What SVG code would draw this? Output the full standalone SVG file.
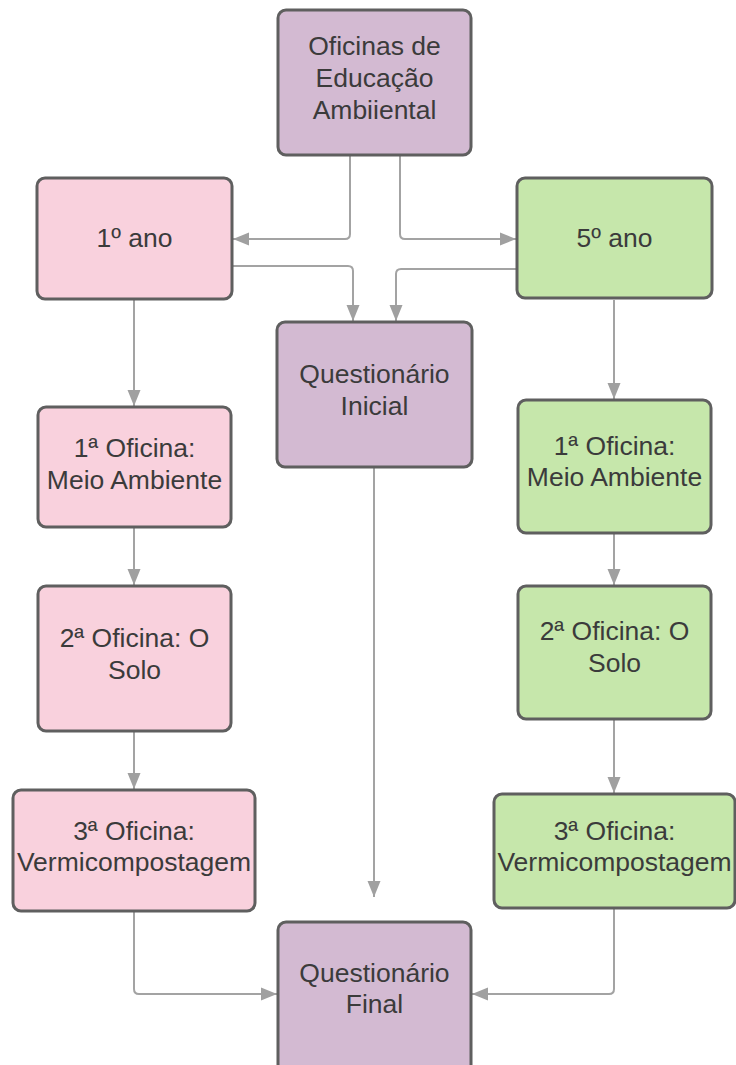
<svg xmlns="http://www.w3.org/2000/svg" width="736" height="1065" viewBox="0 0 736 1065">
<defs>
<marker id="ah" markerUnits="userSpaceOnUse" markerWidth="17" markerHeight="14" refX="16" refY="7" orient="auto">
<path d="M0,0.5 L16,7 L0,13.5 z" fill="#a0a0a0"/>
</marker>
<style>
.box{stroke:#5f5f5f;stroke-width:3}
.pink{fill:#f9d1dd}
.green{fill:#c6e7ab}
.purple{fill:#d3bad2}
.t{font-family:"Liberation Sans",Arial,sans-serif;font-size:26.5px;fill:#3b3b3b;text-anchor:middle}
.c{fill:none;stroke:#a3a3a3;stroke-width:2;marker-end:url(#ah)}
</style>
</defs>
<rect width="736" height="1065" fill="#ffffff"/>
<g id="connectors">
<path class="c" d="M350,156 V234 Q350,239 345,239 H233"/>
<path class="c" d="M400,156 V234 Q400,239 405,239 H516"/>
<path class="c" d="M233,266 H348 Q353,266 353,271 V321"/>
<path class="c" d="M516,269 H401 Q396,269 396,274 V321"/>
<path class="c" d="M134,300 V406"/>
<path class="c" d="M134,528 V585"/>
<path class="c" d="M134,732 V789"/>
<path class="c" d="M134,912 V989 Q134,994 139,994 H277"/>
<path class="c" d="M614,300 V399"/>
<path class="c" d="M614,534 V585"/>
<path class="c" d="M614,720 V793"/>
<path class="c" d="M614,909 V989 Q614,994 609,994 H472"/>
<path class="c" d="M374,468 V897"/>
</g>
<g id="oficinas">
<rect class="box purple" x="278" y="10" width="193" height="145" rx="8"/>
<text class="t" x="374.5" y="55">Oficinas de</text>
<text class="t" x="374.5" y="87">Educação</text>
<text class="t" x="374.5" y="119">Ambiiental</text>
</g>
<g id="ano1">
<rect class="box pink" x="37" y="178" width="195" height="121" rx="8"/>
<text class="t" x="134.5" y="247">1º ano</text>
</g>
<g id="ano5">
<rect class="box green" x="517" y="178" width="195" height="120" rx="8"/>
<text class="t" x="614.5" y="247">5º ano</text>
</g>
<g id="qinicial">
<rect class="box purple" x="277" y="322" width="195" height="145" rx="8"/>
<text class="t" x="374.5" y="383">Questionário</text>
<text class="t" x="374.5" y="415">Inicial</text>
</g>
<g id="p1">
<rect class="box pink" x="38" y="407" width="193" height="120" rx="8"/>
<text class="t" x="134.5" y="457">1ª Oficina:</text>
<text class="t" x="134.5" y="489">Meio Ambiente</text>
</g>
<g id="p2">
<rect class="box pink" x="38" y="586" width="193" height="145" rx="8"/>
<text class="t" x="134.5" y="647">2ª Oficina: O</text>
<text class="t" x="134.5" y="679">Solo</text>
</g>
<g id="p3">
<rect class="box pink" x="13" y="790" width="242" height="121" rx="8"/>
<text class="t" x="134" y="840">3ª Oficina:</text>
<text class="t" x="134" y="871">Vermicompostagem</text>
</g>
<g id="g1">
<rect class="box green" x="518" y="400" width="193" height="133" rx="8"/>
<text class="t" x="614.5" y="455">1ª Oficina:</text>
<text class="t" x="614.5" y="486">Meio Ambiente</text>
</g>
<g id="g2">
<rect class="box green" x="518" y="586" width="193" height="133" rx="8"/>
<text class="t" x="614.5" y="640">2ª Oficina: O</text>
<text class="t" x="614.5" y="672">Solo</text>
</g>
<g id="g3">
<rect class="box green" x="494" y="794" width="241" height="114" rx="8"/>
<text class="t" x="614.5" y="840">3ª Oficina:</text>
<text class="t" x="614.5" y="871">Vermicompostagem</text>
</g>
<g id="qfinal">
<rect class="box purple" x="278" y="922" width="193" height="160" rx="8"/>
<text class="t" x="374.5" y="982">Questionário</text>
<text class="t" x="374.5" y="1013">Final</text>
</g>
</svg>
